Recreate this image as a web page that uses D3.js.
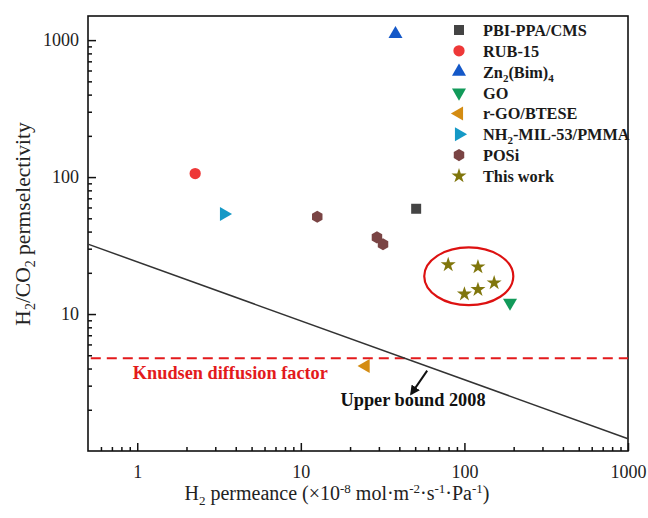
<!DOCTYPE html>
<html>
<head>
<meta charset="utf-8">
<script src="https://cdn.jsdelivr.net/npm/d3@7"></script>
<style>
  body { margin: 0; background: #fff; }
  svg { font-family: "Liberation Serif", "Times New Roman", serif; }
</style>
</head>
<body>
<svg class="chart"></svg>
<script>
// series names, split so sub/superscripts can be drawn
const seriesNames = [
    [["PBI-PPA/CMS", ""]],
    [["RUB-15", ""]],
    [["Zn", ""], ["2", "sub"], ["(Bim)", ""], ["4", "sub"]],
    [["GO", ""]],
    [["r-GO/BTESE", ""]],
    [["NH", ""], ["2", "sub"], ["-MIL-53/PMMA", ""]],
    [["POSi", ""]],
    [["This work", ""]]
];
const seriesShapes = ["square", "circle", "up", "down", "left", "right", "hex", "star"];
const seriesColors = ["#444444", "#ee3838", "#1458c8", "#129a5a", "#d48c12", "#1599c6", "#7a4444", "#80760c"];

// H2 permeance (x) and H2/CO2 selectivity (y), per series
const h2Permeance = [
    [50.7],
    [2.26],
    [37.9],
    [190],
    [24.9],
    [3.39],
    [12.6, 29.2, 31.8],
    [79.6, 121, 152, 121, 100]
];
const selectivity = [
    [58.7],
    [106],
    [1107],
    [12.1],
    [4.17],
    [53.7],
    [51.3, 36.3, 32.3],
    [22.9, 22.1, 16.9, 15.1, 14.0]
];

// upper bound 2008 end points and Knudsen factor
const boundPerm = [0.5, 1000];
const boundSel = [32.4, 1.23];
const knudsen = 4.75;

// circle round this work (data bounds)
const ringX = [56.8, 199];
const ringY = [11.6, 30.7];

const xTickLabels = [1, 10, 100, 1000];
const yTickLabels = [10, 100, 1000];

const canvas = {width: 648, height: 518};
const margin = {top: 16, bottom: 67, right: 20, left: 88};
const dims = {
    width: canvas.width - margin.left - margin.right,
    height: canvas.height - margin.top - margin.bottom
};

const svg = d3.select(".chart")
    .attr("width", canvas.width)
    .attr("height", canvas.height);

const x = d3.scaleLog().domain([0.5, 1000]).range([0, dims.width]);
const y = d3.scaleLog().domain([1, 1500]).range([dims.height, 0]);

const g = svg.append("g")
    .attr("transform", "translate(" + margin.left + "," + margin.top + ")");

// minor ticks
function minorTicks(lo, hi) {
    const out = [];
    for (let d = Math.pow(10, Math.floor(Math.log10(lo))); d < hi; d *= 10) {
        for (let k = 2; k <= 9; k++) {
            const v = k * d;
            if (v > lo && v < hi) out.push(v);
        }
    }
    return out;
}

g.append("g")
    .attr("transform", "translate(0," + dims.height + ")")
    .call(d3.axisBottom(x).tickValues(minorTicks(0.5, 1000)).tickSize(-4).tickFormat(""))
    .call(a => a.select(".domain").remove());
g.append("g")
    .call(d3.axisLeft(y).tickValues(minorTicks(1, 1500)).tickSize(-4).tickFormat(""))
    .call(a => a.select(".domain").remove());

const xAxis = g.append("g")
    .attr("transform", "translate(0," + dims.height + ")")
    .call(d3.axisBottom(x).tickValues(xTickLabels).tickSize(-8).tickPadding(14).tickFormat(d3.format("d")));
const yAxis = g.append("g")
    .call(d3.axisLeft(y).tickValues(yTickLabels).tickSize(-8).tickPadding(9).tickFormat(d3.format("d")));

[xAxis, yAxis].forEach(a => {
    a.selectAll("text").attr("font-family", "Liberation Serif").attr("font-size", 18).attr("fill", "#222");
    a.select(".domain").remove();
});
g.selectAll(".tick line").attr("stroke", "#111").attr("stroke-width", 1.5);

// frame
g.append("rect")
    .attr("width", dims.width).attr("height", dims.height)
    .attr("fill", "none").attr("stroke", "#111").attr("stroke-width", 1.6);

const plot = g.append("g");

// Knudsen line
plot.append("line")
    .attr("x1", x(0.52)).attr("x2", x(1000))
    .attr("y1", y(knudsen)).attr("y2", y(knudsen))
    .attr("stroke", "#e31a1c").attr("stroke-width", 2)
    .attr("stroke-dasharray", "10,6");

// upper bound
plot.append("line")
    .attr("x1", x(boundPerm[0])).attr("y1", y(boundSel[0]))
    .attr("x2", x(boundPerm[1])).attr("y2", y(boundSel[1]))
    .attr("stroke", "#333").attr("stroke-width", 1.5);

// annotations
plot.append("text")
    .attr("x", x(0.94)).attr("y", y(3.36))
    .attr("font-size", 18.3).attr("font-weight", "bold").attr("fill", "#e31a1c")
    .text("Knudsen diffusion factor");

plot.append("text")
    .attr("x", x(17.5)).attr("y", y(2.13))
    .attr("font-size", 18.3).attr("font-weight", "bold").attr("fill", "#111")
    .text("Upper bound 2008");

svg.append("defs").append("marker")
    .attr("id", "arrow").attr("viewBox", "0 0 10 10")
    .attr("refX", 8).attr("refY", 5)
    .attr("markerWidth", 5).attr("markerHeight", 5)
    .attr("orient", "auto")
    .append("path").attr("d", "M0,0L10,5L0,10z").attr("fill", "#111");

plot.append("line")
    .attr("x1", x(59.2)).attr("y1", y(3.86))
    .attr("x2", x(47.3)).attr("y2", y(2.61))
    .attr("stroke", "#111").attr("stroke-width", 2)
    .attr("marker-end", "url(#arrow)");

// ring round this work
plot.append("ellipse")
    .attr("cx", (x(ringX[0]) + x(ringX[1])) / 2)
    .attr("cy", (y(ringY[0]) + y(ringY[1])) / 2)
    .attr("rx", (x(ringX[1]) - x(ringX[0])) / 2)
    .attr("ry", (y(ringY[0]) - y(ringY[1])) / 2)
    .attr("fill", "none").attr("stroke", "#dd1111").attr("stroke-width", 2.2);

// marker shapes
const hexagon = {
    draw: function(ctx, size) {
        const r = Math.sqrt(size / (1.5 * Math.sqrt(3)));
        for (let i = 0; i < 6; i++) {
            const a = Math.PI / 6 + i * Math.PI / 3;
            if (i === 0) ctx.moveTo(r * Math.cos(a), r * Math.sin(a));
            else ctx.lineTo(r * Math.cos(a), r * Math.sin(a));
        }
        ctx.closePath();
    }
};

function shapePath(shape) {
    if (shape === "square") return d3.symbol(d3.symbolSquare, 100)();
    if (shape === "circle") return d3.symbol(d3.symbolCircle, 100)();
    if (shape === "hex") return d3.symbol(hexagon, 95)();
    if (shape === "star") return d3.symbol(d3.symbolStar, 70)();
    return d3.symbol(d3.symbolTriangle, 85)();
}
function shapeRotate(shape) {
    return {down: 180, left: -90, right: 90}[shape] || 0;
}

seriesShapes.forEach(function(shape, i) {
    plot.selectAll(".pt" + i)
        .data(h2Permeance[i].map((v, j) => [v, selectivity[i][j]]))
        .enter()
        .append("path")
        .attr("d", shapePath(shape))
        .attr("transform", d => "translate(" + x(d[0]) + "," + y(d[1]) + ") rotate(" + shapeRotate(shape) + ")")
        .attr("fill", seriesColors[i]);
});

// legend
const legend = g.append("g").attr("transform", "translate(371,14)");
seriesShapes.forEach(function(shape, i) {
    const row = legend.append("g").attr("transform", "translate(0," + (i * 20.85) + ")");
    row.append("path")
        .attr("d", shapePath(shape))
        .attr("transform", "rotate(" + shapeRotate(shape) + ")")
        .attr("fill", seriesColors[i]);
    const t = row.append("text")
        .attr("x", 24).attr("y", 6)
        .attr("font-size", 16.3).attr("font-weight", "bold").attr("fill", "#1a1a1a");
    seriesNames[i].forEach(function(p) {
        const s = t.append("tspan").text(p[0]);
        if (p[1] === "sub") s.attr("font-size", 11).attr("baseline-shift", "-4");
    });
});

// axis titles
const xt = svg.append("text")
    .attr("x", 337).attr("y", 500)
    .attr("text-anchor", "middle")
    .attr("font-size", 20).attr("fill", "#222");
[["H", ""], ["2", "sub"], [" permeance (\u00d710", ""], ["-8", "sup"], [" mol\u00b7m", ""], ["-2", "sup"],
 ["\u00b7s", ""], ["-1", "sup"], ["\u00b7Pa", ""], ["-1", "sup"], [")", ""]].forEach(function(p) {
    const s = xt.append("tspan").text(p[0]);
    if (p[1] === "sub") s.attr("font-size", 13).attr("baseline-shift", "-5");
    if (p[1] === "sup") s.attr("font-size", 13).attr("baseline-shift", "7");
});

const yt = svg.append("text")
    .attr("transform", "translate(30," + (margin.top + 208) + ") rotate(-90)")
    .attr("text-anchor", "middle")
    .attr("font-size", 21.5).attr("fill", "#222");
[["H", ""], ["2", "sub"], ["/CO", ""], ["2", "sub"], [" permselectivity", ""]].forEach(function(p) {
    const s = yt.append("tspan").text(p[0]);
    if (p[1] === "sub") s.attr("font-size", 14).attr("baseline-shift", "-5");
});
</script>
</body>
</html>
